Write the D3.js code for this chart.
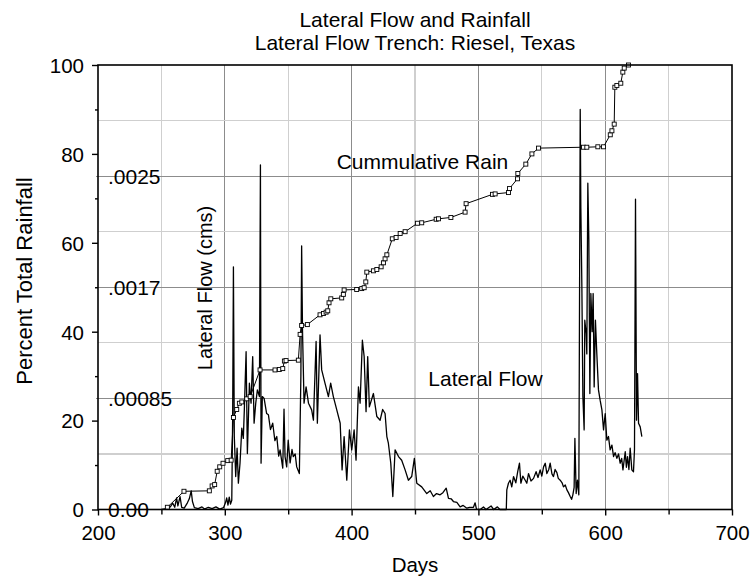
<!DOCTYPE html>
<html>
<head>
<meta charset="utf-8">
<script src="https://cdn.jsdelivr.net/npm/d3@7"></script>
<style>
  html, body { margin: 0; padding: 0; background: #fff; }
  svg { display: block; }
  text { font-family: "Liberation Sans", Arial, Helvetica, sans-serif; fill: #000; }
</style>
</head>
<body>
<svg id="chart" width="751" height="577"></svg>
<script>
// ---------------- data ----------------
const titleLines = ["Lateral Flow and Rainfall", "Lateral Flow Trench: Riesel, Texas"];
const xTicks = [200, 300, 400, 500, 600, 700];
const xMinorTicks = [250, 350, 450, 550, 650];
const rainTicks = [0, 20, 40, 60, 80, 100];
const rainMinorTicks = [10, 30, 50, 70, 90];
const flowTickValues = [0, 0.00085, 0.0017, 0.00255];
const flowTickLabels = ["0.00", ".00085", ".0017", ".0025"];
const flowMinorValues = [0.000425, 0.001275, 0.002125, 0.002975];

// cumulative rainfall: [day, percent of total]
const cumulativeRain = [
  [254.7,0.5],[267.8,4.1],[287.8,4.2],[290,5.3],[292,5.6],[294,8.6],[296,9.6],[298.6,10.4],
  [302.3,11.0],[305,11.1],[306.8,20.7],[309.4,22.5],[311.5,23.9],[313.4,24.2],[317.3,24.9],
  [320,25.4],[327.8,31.4],[339.6,31.4],[343,31.5],[345.7,31.7],[347,33.4],[348.3,33.5],[358,33.6],
  [359.4,39.4],[360.6,41.4],[365.1,41.6],[375.1,43.8],[377.8,44.1],[379.9,44.4],[381.2,44.7],
  [382.2,46.5],[383.6,47.4],[392.2,47.6],[393.5,48.4],[394.1,49.4],[404,49.5],[408,49.7],
  [409.9,49.9],[411.2,51.2],[412,53.4],[417.2,53.7],[419.9,54.0],[423.3,54.6],[425.1,55.5],
  [426.4,56.4],[427.8,57.3],[432.1,60.9],[435.1,61.2],[438.3,62.1],[442.2,62.5],[451.9,64.4],
  [455.3,64.5],[466.7,65.3],[468.5,65.4],[478.3,65.7],[489.5,66.9],[490.3,68.8],[511.1,70.9],
  [513.2,71.0],[523.7,71.3],[524.5,72.2],[530.8,74.4],[531.1,75.6],[537.4,77.7],[542.2,80.0],
  [547.4,81.3],[582.9,81.5],[585.5,81.5],[594.2,81.6],[598.7,81.6],[604,84.3],[605.3,85.2],
  [607.1,86.7],[607.6,95.0],[609.2,95.4],[612.3,95.9],[613.9,98.4],[615,99.3],[618.4,100]
];

// lateral flow: [day, cms]
const lateralFlow = [
  [250,0],[254,0.000007],[257,0.00002],[259,0.000048],[260.5,0.000017],[262,0.000088],[263,0.000027],
  [264.7,0.000099],[266,0.000017],[268,0.00001],[270.5,0.000051],[272,0.000082],[273.5,0.000143],
  [274.5,0.000061],[276,0.000014],[279,0.000007],[282,0.00002],[284,0.000003],[287,0.000017],
  [290,0.000007],[293,0.00002],[296,0.000003],[299,0.000014],[300.5,0.000051],[301.5,0.000088],
  [302.5,0.000034],[303.5,0.000095],[304.5,0.000041],[305.5,0.000071],[306.2,0.000711],
  [306.8,0.001856],[307.5,0.000558],[308.6,0.000252],[309.7,0.000469],[310.7,0.000201],
  [312,0.000354],[313.4,0.000622],[314.6,0.000544],[315.4,0.000762],[316.8,0.001207],
  [317.8,0.000428],[319.4,0.000966],[320.7,0.000813],[322,0.00117],[323.1,0.00066],
  [324.4,0.000813],[325.7,0.000915],[327.3,0.000864],[328.1,0.002635],[328.6,0.000354],
  [329.6,0.000864],[331,0.00085],[333,0.000734],[334.4,0.000724],[336,0.000612],[337.8,0.00066],
  [339.5,0.000527],[341,0.000558],[342.5,0.000408],[343.6,0.000456],[345.7,0.000316],
  [346.7,0.000768],[347.5,0.000405],[348.8,0.000326],[350,0.00053],[351.5,0.000357],
  [353,0.000459],[354,0.000405],[355.5,0.000425],[356.7,0.000326],[358.8,0.000275],
  [360,0.00102],[360.6,0.002016],[361.3,0.00136],[362.5,0.000813],[364.1,0.000938],
  [366,0.000813],[368.5,0.000762],[369.9,0.000683],[372,0.001285],[373,0.00066],
  [375.1,0.001336],[376.4,0.001068],[379,0.000966],[381.7,0.000864],[383.5,0.000966],
  [385.6,0.000864],[388.3,0.000762],[391,0.00066],[392.5,0.000303],[394.1,0.000558],
  [396.2,0.000224],[398.3,0.000609],[400.1,0.000456],[402,0.000609],[403.5,0.000377],
  [405.4,0.000938],[406.7,0.000813],[408.5,0.001295],[409.9,0.00117],[411.4,0.000748],
  [412.7,0.00117],[414,0.000785],[417.2,0.000887],[419.9,0.000711],[422.5,0.000683],
  [424.5,0.000765],[426.4,0.000734],[427.8,0.000558],[429,0.000507],[430.9,0.000354],
  [432.5,0.000099],[434.3,0.000456],[437,0.000405],[439.5,0.000377],[442.2,0.000303],
  [444.8,0.000224],[447.4,0.000252],[449.5,0.000391],[451.4,0.000201],[455.3,0.000173],
  [459.3,0.000122],[462,0.000143],[464.5,0.000099],[467,0.000122],[469.8,0.000112],
  [472,0.000129],[474.6,0.000163],[476.4,0.000085],[478.5,0.000082],[480.3,0.000061],
  [483,0.000054],[485.6,0.00002],[488,0.000031],[490.9,0.00001],[493,0.000017],[496.1,0.000017],
  [497.4,0.000051],[498.5,0.000003],[501.4,0],[504,0.00002],[506,0],[510,0.000027],[512,0],
  [515,0.00002],[517,0],[522,0],[522.4,0.00015],[523.7,0.000201],[525,0.000224],[526.3,0.000173],
  [527.7,0.000252],[529.5,0.000204],[531,0.000289],[532.4,0.000354],[533.5,0.000201],
  [535,0.000255],[536.9,0.000224],[538.2,0.000201],[539.5,0.000275],[541.5,0.000218],
  [543.5,0.000238],[545.5,0.000289],[547,0.000245],[548.7,0.000303],[550,0.000255],
  [551.4,0.000326],[552.7,0.000354],[554,0.000275],[555.5,0.000306],[556.6,0.000354],
  [558,0.000272],[559.2,0.000252],[560.5,0.000306],[561.9,0.000282],[563,0.000238],
  [564.5,0.000224],[566,0.000204],[567.1,0.000173],[568.5,0.000187],[569.8,0.00015],
  [571,0.000129],[572.4,0.000099],[573.5,0.000078],[574.5,0.000112],[575.5,0.00017],
  [576.1,0.000544],[577.1,0.000122],[578.1,0.000224],[579.2,0.000112],[580.3,0.00306],
  [580.8,0.002305],[581.6,0.001703],[582.4,0.000864],[583.4,0.000609],[583.9,0.001448],
  [585,0.001346],[585.5,0.00119],[586.3,0.002496],[587.1,0.00206],[587.9,0.000887],
  [588.7,0.001652],[589.7,0.00136],[590.5,0.001652],[591.3,0.000938],[592.3,0.001448],
  [593.4,0.00119],[594.7,0.000915],[596,0.000836],[597.4,0.000762],[598.7,0.000609],
  [600,0.000734],[601.3,0.00053],[602.6,0.000558],[603.9,0.000456],[605.3,0.000493],
  [606.6,0.000405],[607.8,0.000435],[609.2,0.000391],[610.5,0.000425],[611.8,0.000354],
  [613,0.000391],[614,0.000303],[615.8,0.000442],[616.7,0.000323],[617.6,0.000405],
  [618.7,0.000306],[619.7,0.000469],[621,0.000303],[622.3,0.000289],[623.1,0.000459],
  [623.9,0.002373],[624.7,0.000683],[625.5,0.00104],[626.3,0.00066],[627.6,0.000632],
  [628.9,0.000558]
];

// ---------------- drawing ----------------
const svg = d3.select("#chart");
const L = 98, R = 732, T = 65, B = 509.5;

const x = d3.scaleLinear().domain([200, 700]).range([L, R]);
const yRain = d3.scaleLinear().domain([0, 100]).range([B, T]);
const yFlow = d3.scaleLinear().domain([0, 0.0034]).range([B, T]);

// gridlines
const grid = svg.append("g").attr("shape-rendering", "crispEdges");
grid.selectAll(".vmin").data(xMinorTicks).join("line")
  .attr("x1", d => x(d)).attr("x2", d => x(d)).attr("y1", T).attr("y2", B)
  .attr("stroke", "#cfcfcf").attr("stroke-width", 1.2);
grid.selectAll(".vmaj").data(xTicks.slice(1, -1)).join("line")
  .attr("x1", d => x(d)).attr("x2", d => x(d)).attr("y1", T).attr("y2", B)
  .attr("stroke", "#8c8c8c").attr("stroke-width", 1);
grid.selectAll(".hmin").data(flowMinorValues).join("line")
  .attr("x1", L).attr("x2", R).attr("y1", d => yFlow(d)).attr("y2", d => yFlow(d))
  .attr("stroke", "#cfcfcf").attr("stroke-width", 1.2);
grid.selectAll(".hmaj").data(flowTickValues.slice(1)).join("line")
  .attr("x1", L - 2).attr("x2", R).attr("y1", d => yFlow(d)).attr("y2", d => yFlow(d))
  .attr("stroke", "#8c8c8c").attr("stroke-width", 1);

// lateral flow line
svg.append("path").datum(lateralFlow)
  .attr("fill", "none").attr("stroke", "#000").attr("stroke-width", 1.3)
  .attr("stroke-linejoin", "round")
  .attr("d", d3.line().x(d => x(d[0])).y(d => yFlow(d[1])));

// cumulative rain line + markers
svg.append("path").datum(cumulativeRain)
  .attr("fill", "none").attr("stroke", "#000").attr("stroke-width", 1)
  .attr("d", d3.line().x(d => x(d[0])).y(d => yRain(d[1])));
svg.append("g").selectAll("rect").data(cumulativeRain).join("rect")
  .attr("x", d => x(d[0]) - 2).attr("y", d => yRain(d[1]) - 2)
  .attr("width", 4).attr("height", 4)
  .attr("fill", "#fff").attr("stroke", "#000").attr("stroke-width", 0.9);

// frame
svg.append("rect").attr("x", L).attr("y", T).attr("width", R - L).attr("height", B - T)
  .attr("fill", "none").attr("stroke", "#000").attr("stroke-width", 1.6);

// bottom axis
const xAxis = svg.append("g").attr("transform", `translate(0,${B})`)
  .call(d3.axisBottom(x).tickValues(xTicks).tickSize(6).tickFormat(d3.format("d")));
svg.append("g").attr("transform", `translate(0,${B})`)
  .call(d3.axisBottom(x).tickValues(xMinorTicks).tickSize(5).tickFormat(""));

// left axis
const yAxis = svg.append("g").attr("transform", `translate(${L},0)`)
  .call(d3.axisLeft(yRain).tickValues(rainTicks).tickSize(6).tickFormat(d3.format("d")));
svg.append("g").attr("transform", `translate(${L},0)`)
  .call(d3.axisLeft(yRain).tickValues(rainMinorTicks).tickSize(3).tickFormat(""));

svg.selectAll(".domain").remove();
svg.selectAll(".tick line").attr("stroke", "#000").attr("stroke-width", 1.4);
xAxis.selectAll(".tick text").attr("font-size", 20.5).attr("dy", null).attr("y", 30.5)
  .attr("font-family", '"Liberation Sans", Arial, sans-serif');
yAxis.selectAll(".tick text").attr("font-size", 20.5).attr("x", -14).attr("dy", "0.36em")
  .attr("font-family", '"Liberation Sans", Arial, sans-serif');

// flow axis labels (inside plot)
svg.append("g").selectAll("text").data(flowTickValues).join("text")
  .attr("x", L + 10).attr("y", d => yFlow(d)).attr("dy", "0.36em")
  .attr("font-size", 21).text((d, i) => flowTickLabels[i]);

// titles
svg.append("text").attr("x", (L + R) / 2).attr("y", 27).attr("text-anchor", "middle")
  .attr("font-size", 21).text(titleLines[0]);
svg.append("text").attr("x", (L + R) / 2).attr("y", 50).attr("text-anchor", "middle")
  .attr("font-size", 21).text(titleLines[1]);

// axis titles
svg.append("text").attr("x", (L + R) / 2).attr("y", 572).attr("text-anchor", "middle")
  .attr("font-size", 20.5).text("Days");
svg.append("text").attr("transform", "translate(32,281) rotate(-90)").attr("text-anchor", "middle")
  .attr("font-size", 22).text("Percent Total Rainfall");
svg.append("text").attr("transform", "translate(212,288) rotate(-90)").attr("text-anchor", "middle")
  .attr("font-size", 20).text("Lateral Flow (cms)");

// series labels
svg.append("text").attr("x", 336.7).attr("y", 169.3).attr("font-size", 21).text("Cummulative Rain");
svg.append("text").attr("x", 428.3).attr("y", 386).attr("font-size", 21).text("Lateral Flow");
</script>
</body>
</html>
